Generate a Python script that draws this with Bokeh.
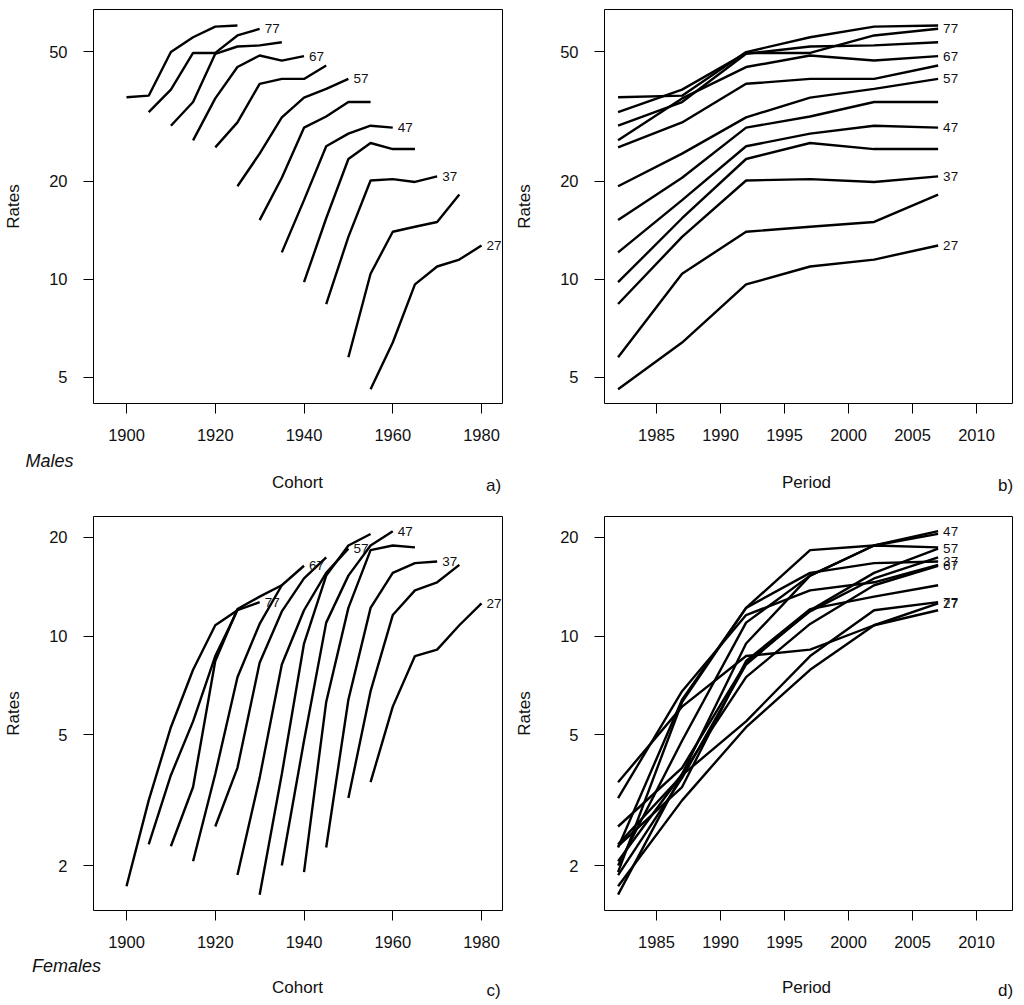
from bokeh.plotting import figure
from bokeh.layouts import column, row
from bokeh.models import Range1d, FixedTicker, NumeralTickFormatter
from bokeh.embed import file_html
from bokeh.resources import INLINE
from bokeh.core.properties import value

FONT = "Liberation Sans"
TXT = "#111111"

# ---------------- data ----------------
ages = [27, 32, 37, 42, 47, 52, 57, 62, 67, 72, 77, 82]
periods = [1982, 1987, 1992, 1997, 2002, 2007]
labelled_ages = [27, 37, 47, 57, 67, 77]

cohort_ticks = [1900, 1920, 1940, 1960, 1980]
period_ticks = [1985, 1990, 1995, 2000, 2005, 2010]
male_ticks = [5, 10, 20, 50]
female_ticks = [2, 5, 10, 20]

# male rates by age, periods 1982..2007
m27 = [4.6, 6.4, 9.65, 10.95, 11.5, 12.7]
m32 = [5.77, 10.4, 14.0, 14.5, 15.0, 18.2]
m37 = [8.4, 13.5, 20.1, 20.3, 19.9, 20.7]
m42 = [9.8, 15.4, 23.4, 26.2, 25.1, 25.1]
m47 = [12.1, 17.5, 25.6, 28.0, 29.6, 29.2]
m52 = [15.2, 20.5, 29.2, 31.6, 35.0, 35.0]
m57 = [19.3, 24.3, 31.4, 36.1, 38.4, 41.2]
m62 = [25.4, 30.3, 39.8, 41.2, 41.2, 45.3]
m67 = [26.7, 35.9, 44.8, 48.6, 46.9, 48.4]
m72 = [29.6, 35.0, 49.2, 51.8, 52.2, 53.4]
m77 = [32.6, 38.2, 49.5, 49.5, 56.0, 58.7]
m82 = [36.2, 36.6, 49.8, 55.3, 59.6, 60.1]

# female rates by age, periods 1982..2007
f27 = [3.59, 6.1, 8.7, 9.1, 10.8, 12.6]
f32 = [3.21, 6.8, 11.6, 13.8, 14.6, 16.5]
f37 = [2.27, 6.4, 12.2, 15.6, 16.7, 16.9]
f42 = [1.91, 6.3, 12.2, 18.3, 18.9, 18.65]
f47 = [2.0, 4.8, 11.0, 15.3, 18.9, 20.9]
f52 = [1.63, 3.8, 9.5, 15.3, 18.9, 20.5]
f57 = [1.87, 3.7, 8.2, 12.0, 15.6, 18.5]
f62 = [2.63, 3.97, 8.3, 11.9, 15.0, 17.4]
f67 = [2.06, 3.8, 7.5, 10.9, 14.3, 16.4]
f72 = [2.29, 3.47, 8.4, 12.1, 13.2, 14.3]
f77 = [2.32, 3.77, 5.5, 8.7, 12.0, 12.7]
f82 = [1.73, 3.16, 5.28, 7.9, 10.8, 12.0]

male = dict(zip(ages, [m27, m32, m37, m42, m47, m52, m57, m62, m67, m72, m77, m82]))
female = dict(zip(ages, [f27, f32, f37, f42, f47, f52, f57, f62, f67, f72, f77, f82]))

# ---------------- layout constants ----------------
FW_A, FW_B = 409, 408
FH = 394
LEFT_A, RIGHT_A = 93, 10
LEFT_B, RIGHT_B = 92, 8
TOP1, BOT1 = 9, 45
TOP2, BOT2 = 9, 43
STRIP1, STRIP2 = 59, 47

cohort_range = (1892.56, 1984.73)
period_range = (1980.94, 2012.81)
male_range = (4.161, 67.27)
female_range = (1.4585, 23.17)


def make_fig(xr, yr, xticks, yticks, left, right, fw, top, bottom):
    p = figure(width=left + fw + right, height=top + FH + bottom,
               x_range=Range1d(*xr), y_range=Range1d(*yr), y_axis_type="log",
               output_backend="svg", toolbar_location=None,
               min_border_left=left, min_border_right=right,
               min_border_top=top, min_border_bottom=bottom)
    p.grid.visible = False
    p.outline_line_color = "black"
    p.outline_line_width = 1
    p.background_fill_color = "white"
    p.border_fill_color = "white"
    for ax in (p.xaxis[0], p.yaxis[0]):
        ax.axis_line_color = None
        ax.minor_tick_line_color = None
        ax.major_tick_line_color = "black"
        ax.major_tick_line_width = 1
        ax.major_tick_in = 0
        ax.major_tick_out = 10
        ax.major_label_standoff = 15
        ax.major_label_text_font = FONT
        ax.major_label_text_font_size = "16.5px"
        ax.major_label_text_color = TXT
        ax.axis_label_text_font = FONT
        ax.axis_label_text_font_size = "17px"
        ax.axis_label_text_font_style = "normal"
        ax.axis_label_text_color = TXT
    p.xaxis.ticker = FixedTicker(ticks=xticks)
    p.yaxis.ticker = FixedTicker(ticks=yticks)
    p.yaxis.formatter = NumeralTickFormatter(format="0")
    p.yaxis.major_label_orientation = "horizontal"
    p.yaxis.major_label_standoff = 16
    p.yaxis.axis_label = "Rates"
    p.yaxis.axis_label_standoff = 23
    return p


def draw(p, data, cohort):
    lx, ly, lt = [], [], []
    for a in ages:
        xs = [per - a for per in periods] if cohort else list(periods)
        p.line(xs, data[a], line_color="black", line_width=2.4)
        if a in labelled_ages:
            lx.append(xs[-1])
            ly.append(data[a][-1])
            lt.append(str(a))
    p.text(x=lx, y=ly, text=lt, x_offset=5, text_align="left", text_baseline="middle",
           text_font=value(FONT), text_font_size="13.5px", text_color=TXT)


def strip(width, height, texts, xs, ys, sizes, styles):
    s = figure(width=width, height=height, x_range=Range1d(0, width), y_range=Range1d(height, 0),
               output_backend="svg", toolbar_location=None,
               x_axis_location=None, y_axis_location=None,
               min_border_left=0, min_border_right=0, min_border_top=0, min_border_bottom=0)
    s.grid.visible = False
    s.outline_line_color = None
    s.background_fill_color = "white"
    s.border_fill_color = "white"
    for t, x, y, sz, st in zip(texts, xs, ys, sizes, styles):
        s.text(x=[x], y=[y], text=[t], text_align="center", text_baseline="middle",
               text_font=value(FONT), text_font_size=sz, text_font_style=st, text_color=TXT)
    return s


pa = make_fig(cohort_range, male_range, cohort_ticks, male_ticks, LEFT_A, RIGHT_A, FW_A, TOP1, BOT1)
pb = make_fig(period_range, male_range, period_ticks, male_ticks, LEFT_B, RIGHT_B, FW_B, TOP1, BOT1)
pc = make_fig(cohort_range, female_range, cohort_ticks, female_ticks, LEFT_A, RIGHT_A, FW_A, TOP2, BOT2)
pd = make_fig(period_range, female_range, period_ticks, female_ticks, LEFT_B, RIGHT_B, FW_B, TOP2, BOT2)

draw(pa, male, True)
draw(pb, male, False)
draw(pc, female, True)
draw(pd, female, False)

WA = LEFT_A + FW_A + RIGHT_A
WB = LEFT_B + FW_B + RIGHT_B
sa = strip(WA, STRIP1, ["Males", "Cohort", "a)"], [49, 297, 493], [12, 34, 37],
           ["18px", "17px", "17px"], ["italic", "normal", "normal"])
sb = strip(WB, STRIP1, ["Period", "b)"], [294, 493], [34, 37],
           ["17px", "17px"], ["normal", "normal"])
sc = strip(WA, STRIP2, ["Females", "Cohort", "c)"], [66, 297, 493], [12, 34, 37],
           ["18px", "17px", "17px"], ["italic", "normal", "normal"])
sd = strip(WB, STRIP2, ["Period", "d)"], [294, 493], [34, 37],
           ["17px", "17px"], ["normal", "normal"])

layout = column(row(pa, pb), row(sa, sb), row(pc, pd), row(sc, sd))
open("out.html", "w").write(file_html(layout, INLINE))
